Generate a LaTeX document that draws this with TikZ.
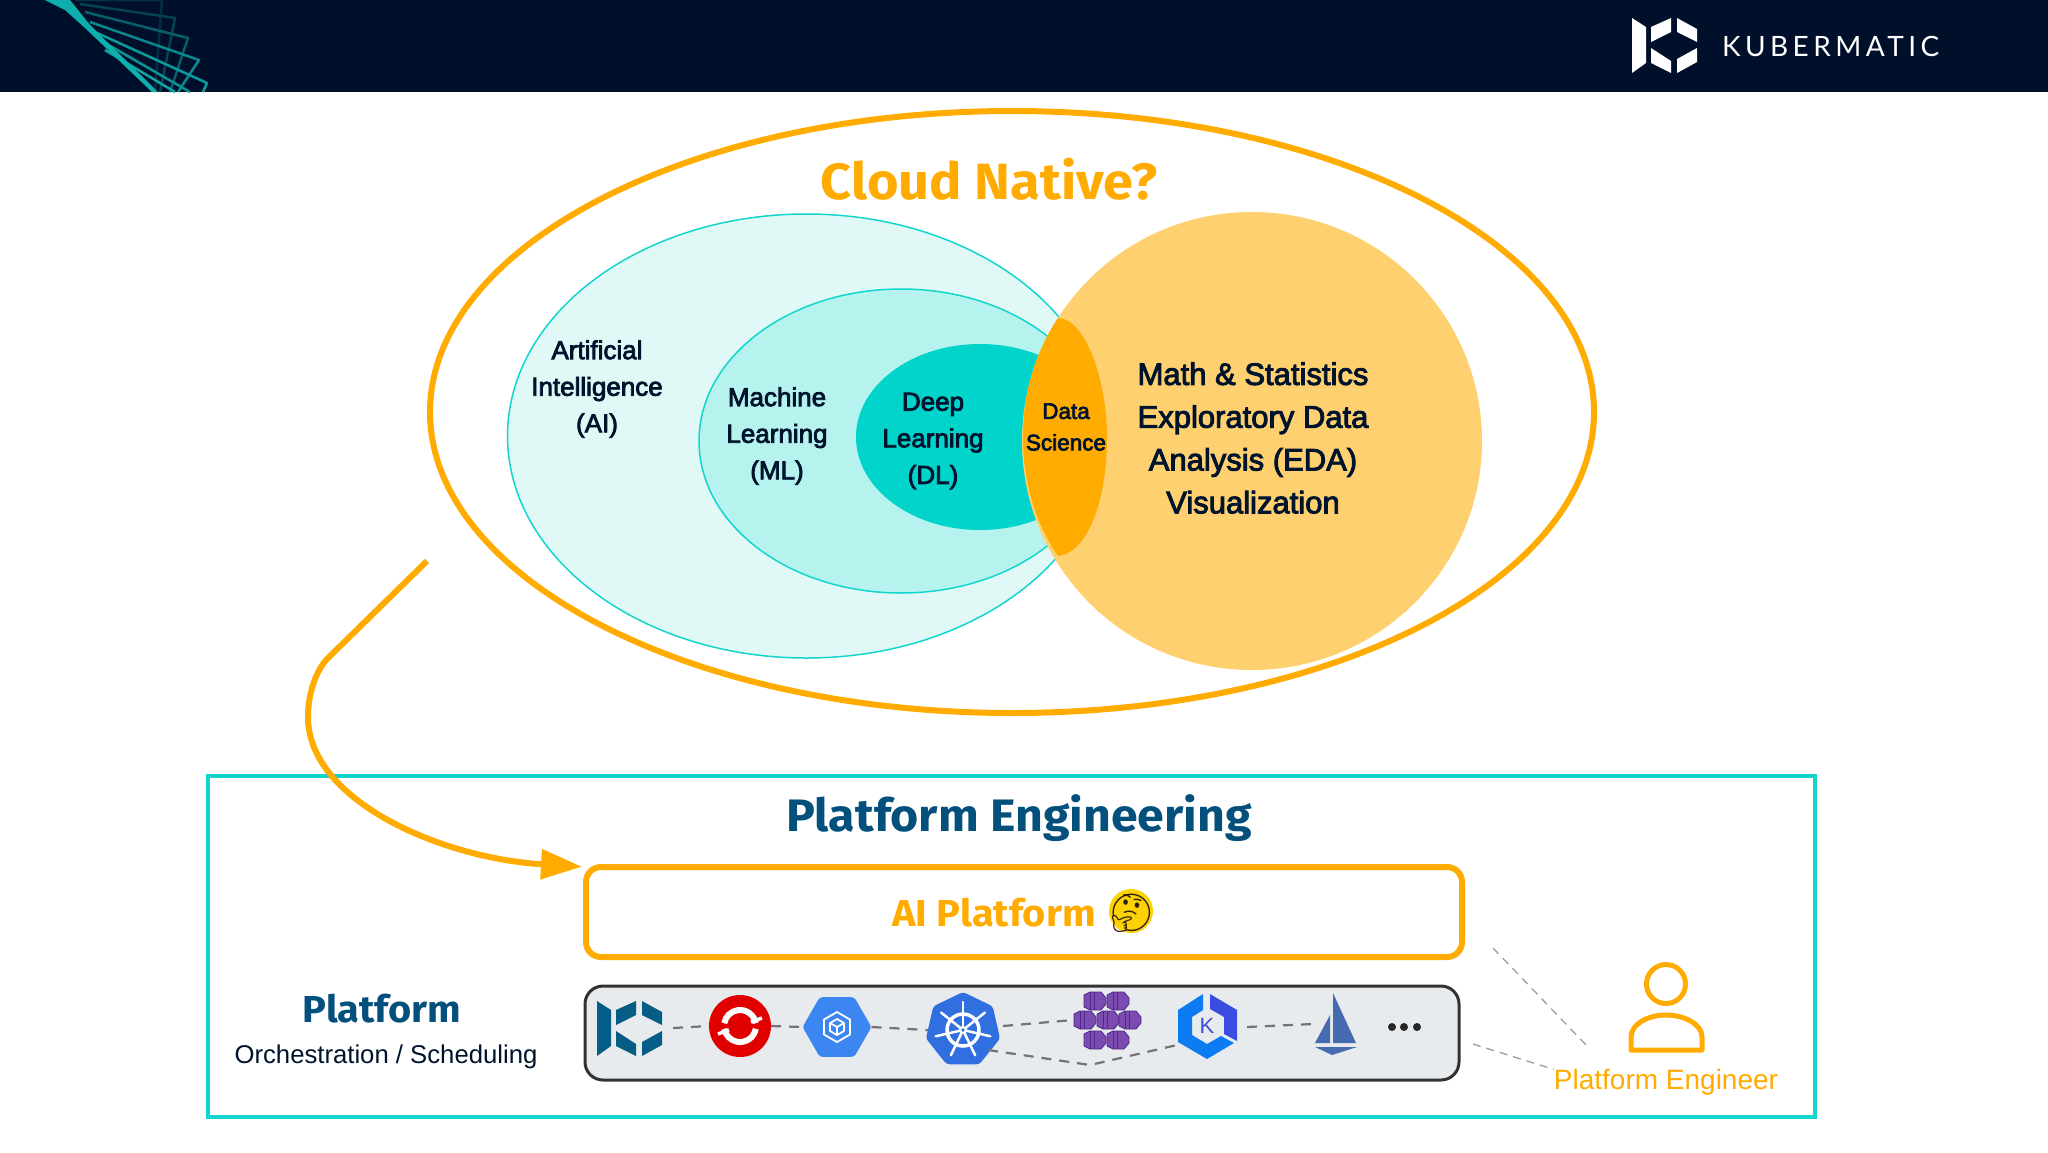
\documentclass[tikz,border=0pt]{standalone}
\usepackage{fontspec}
\setmainfont{Liberation Sans}
\newfontfamily\medfont[FakeBold=3]{Liberation Sans}
\newfontfamily\headfont[FakeStretch=1.06]{Fira Sans}
\newfontfamily\logofont[LetterSpace=16]{Lato}
\newfontfamily\emojifont{Noto Emoji}
\usepackage{tikz}
\usetikzlibrary{arrows.meta,shapes.geometric}
\definecolor{navy}{HTML}{00102B}
\definecolor{ink}{HTML}{00132D}
\definecolor{deepblue}{HTML}{04507D}
\definecolor{amber}{HTML}{FFAB00}
\definecolor{lightamber}{HTML}{FFD070}
\definecolor{teal}{HTML}{12D6CE}
\definecolor{aifill}{HTML}{E0F9F6}
\definecolor{mlfill}{HTML}{B6F3EF}
\definecolor{dlfill}{HTML}{00D4CB}
\definecolor{barfill}{HTML}{E8EBEE}
\definecolor{gkeblue}{HTML}{3B86F0}
\definecolor{kubeblue}{HTML}{2F6FE0}
\definecolor{cubefill}{HTML}{7B4BB0}
\definecolor{cubeline}{HTML}{50268C}
\definecolor{sailblue}{HTML}{466BB0}
\definecolor{kindigo}{HTML}{3B4CE0}
\definecolor{kblue}{HTML}{0D7BF2}
\tikzstyle{every node}=[inner sep=0pt,outer sep=0pt]
\tikzstyle{area}=[ellipse,draw=teal,line width=1.5pt]
\tikzstyle{venntext}=[text=ink,align=center,font=\medfont\fontsize{26}{36.6}\selectfont]
\tikzstyle{bigtext}=[text=ink,align=center,font=\medfont\fontsize{31}{42.8}\selectfont]
\tikzstyle{smalltext}=[text=ink,align=center,font=\medfont\fontsize{22.5}{31.5}\selectfont]
\tikzstyle{heading}=[text=deepblue,font=\headfont\bfseries\fontsize{45.5}{50}\selectfont]
\tikzstyle{iconlink}=[dash pattern=on 10pt off 8pt,draw=black!55,line width=2.2pt]
\tikzstyle{hintlink}=[dash pattern=on 8pt off 6pt,draw=black!38,line width=1.3pt]
\tikzset{
  kmlogo/.pic={
    \fill (0,0) -- (14,9) -- (14,45) -- (0,55) -- cycle;
    \fill (19,9) -- (39,0) -- (39,14) -- (19,24) -- cycle;
    \fill (19,30) -- (39,43) -- (39,55) -- (19,45) -- cycle;
    \fill (45,0) -- (65,11) -- (65,24) -- (45,14) -- cycle;
    \fill (45,41) -- (65,30) -- (65,44) -- (45,55) -- cycle;
  },
  cube/.pic={
    \filldraw[fill=cubefill,draw=cubeline,line width=0.8pt,line join=round]
      (-11,-6) -- (-5,-9) -- (6,-9) -- (11,-3) -- (11,3) -- (6,9) -- (-5,9) -- (-11,6) -- cycle;
    \draw[cubeline,line width=0.8pt] (-5,-9) -- (-5,9) (-1,-9) -- (-1,9);
  }
}
\begin{document}
\begin{tikzpicture}[x=1pt,y=-1pt]
  \useasboundingbox[fill=white] (0,0) rectangle (2048,1152);
  % header
  \fill[navy] (0,0) rectangle (2048,92);
  \begin{scope}
    \clip (0,0) rectangle (2048,92);
    \foreach \sx/\sy/\cx/\cy/\ex/\tone in {75/0/162/0/155/15,80/4/175/18/160/25,85/12/188/38/170/40,90/22/199/60/178/60,95/32/207/83/203/70}
      \draw[teal!\tone!navy,line width=2.5pt,line join=round] (\sx,\sy) -- (\cx,\cy) -- (\ex,92);
    \foreach \sx/\sy/\ex/\tone in {100/40/190/65,105/50/175/75}
      \draw[teal!\tone!navy,line width=2.5pt] (\sx,\sy) -- (\ex,92);
    \fill[teal!80!navy] (45,0) -- (70,0) -- (90,25) -- (158,92) -- (152,92) -- (85,28) -- (65,10) -- cycle;
  \end{scope}
  \pic[white] at (1632,18) {kmlogo};
  \node[text=white,anchor=west,font=\logofont\fontsize{28}{30}\selectfont] (brand) at (1722,46.5) {KUBERMATIC};
  % venn
  \node[ellipse,draw=amber,line width=6pt,minimum width=1164pt,minimum height=602pt] (cloud) at (1012,412) {};
  \node[area,fill=aifill,minimum width=598pt,minimum height=444pt] (ai) at (806.5,436) {};
  \node[area,fill=mlfill,minimum width=404pt,minimum height=304pt] (ml) at (901,441) {};
  \node[ellipse,fill=dlfill,minimum width=248pt,minimum height=186pt] (dl) at (980,437) {};
  \node[ellipse,fill=lightamber,minimum width=460pt,minimum height=458pt] (math) at (1252,441) {};
  \fill[amber] (1058,318) .. controls (1085,318) and (1107,380) .. (1107,437)
    .. controls (1107,495) and (1090,552) .. (1058,556)
    .. controls (1040,530) and (1023,490) .. (1023,437)
    .. controls (1023,385) and (1040,345) .. (1058,318) -- cycle;
  \node[text=amber,font=\headfont\bfseries\fontsize{51}{54}\selectfont] (question) at (989,179.5) {Cloud Native?};
  \node[venntext] (ailabel) at (597,389) {Artificial\\Intelligence\\(AI)};
  \node[venntext] (mllabel) at (777,436) {Machine\\Learning\\(ML)};
  \node[venntext] (dllabel) at (933,441) {Deep\\Learning\\(DL)};
  \node[smalltext] (dslabel) at (1066,427) {Data\\Science};
  \node[bigtext] (mathlabel) at (1253,438) {Math \& Statistics\\Exploratory Data\\Analysis (EDA)\\Visualization};
  % platform engineering
  \node[draw=teal,line width=4pt,minimum width=1607pt,minimum height=341pt] (frame) at (1011.5,946.5) {};
  \node[heading] (title) at (1019,818.5) {Platform Engineering};
  \node[draw=amber,line width=6pt,rounded corners=15pt,minimum width=876pt,minimum height=90pt] (aibox) at (1024,912) {};
  \node[text=amber,font=\headfont\bfseries\fontsize{37.5}{42}\selectfont] (aitext) at (994,913) {AI Platform};
  \node[circle,fill=yellow!70!orange,minimum size=44pt] (thinkface) at (1131,911) {};
  \node[text=black!75!brown,font=\emojifont\fontsize{37}{40}\selectfont] (thinking) at (1131,913) {🤔};
  \coordinate (flowstart) at (427,561);
  \coordinate (flowbend) at (328,658);
  \draw[amber,line width=6pt,shorten >=4pt,-{Triangle[length=41pt,width=29pt]}] (flowstart) -- (flowbend)
    .. controls (318,668) and (308,690) .. (308,717)
    .. controls (308,800) and (440,858) .. (aibox.north west);
  \node[text=deepblue,font=\headfont\bfseries\fontsize{37.5}{44}\selectfont] (platform) at (382,1009) {Platform};
  \node[text=ink,font=\fontsize{25.7}{30}\selectfont] (orchestration) at (386,1056.5) {Orchestration / Scheduling};
  % tool row
  \node[draw=black!80,fill=barfill,line width=3pt,rounded corners=18pt,minimum width=874pt,minimum height=94pt] (toolbar) at (1022,1033) {};
  \node[minimum width=66pt,minimum height=56pt] (kkp) at (640,1028) {};
  \pic[deepblue!90!teal] at (597,1001) {kmlogo};
  \node[circle,fill=red!88!black,minimum size=62pt] (openshift) at (740,1026) {};
  \begin{scope}[shift={(openshift.center)}]
    \draw[white,line width=6pt] (-10:16) arc [start angle=-10,end angle=-170,radius=16];
    \draw[white,line width=6pt] (10:16) arc [start angle=10,end angle=170,radius=16];
    \draw[white,line width=3.5pt] (11,-4) -- (22,-8) (-11,4) -- (-22,8);
  \end{scope}
  \node[regular polygon,regular polygon sides=6,fill=gkeblue,rounded corners=3pt,minimum size=69pt] (gke) at (837,1027) {};
  \begin{scope}[shift={(gke.center)},white,line width=1.8pt,line join=round]
    \draw (0,-15) -- (13,-7.5) -- (13,7.5) -- (0,15) -- (-13,7.5) -- (-13,-7.5) -- cycle;
    \draw (0,-8) -- (7,-4) -- (7,4) -- (0,8) -- (-7,4) -- (-7,-4) -- cycle;
    \draw (-7,-4) -- (0,0) -- (7,-4) (0,0) -- (0,8);
  \end{scope}
  \node[regular polygon,regular polygon sides=7,fill=kubeblue,rounded corners=3pt,minimum size=76pt] (kube) at (963,1030) {};
  \begin{scope}[shift={(kube.center)},white]
    \draw[line width=3.5pt] (0,0) circle (16pt);
    \foreach \a in {0,...,6}
      \draw[line width=2.5pt,line cap=round] (0,0) -- (-90+\a*360/7:28);
    \fill circle (4pt);
    \fill[kubeblue] circle (1.8pt);
  \end{scope}
  \node[minimum width=68pt,minimum height=66pt] (aks) at (1107,1020) {};
  \foreach \cx/\cy in {1095/1001,1118/1001,1085/1020,1108/1020,1130/1020,1095/1040,1118/1040}
    \pic at (\cx,\cy) {cube};
  \node[minimum width=60pt,minimum height=66pt,text=kindigo,font=\fontsize{22}{24}\selectfont] (kkpk) at (1207,1026) {K};
  \fill[kindigo] (1210,994) -- (1237,1010) -- (1237,1041) -- (1224,1034) -- (1224,1017) -- (1210,1009) -- cycle;
  \fill[kblue] (1203,994) -- (1178,1010) -- (1178,1042) -- (1207,1059) -- (1234,1043) -- (1221,1036) -- (1207,1044) -- (1192,1035) -- (1192,1017) -- (1203,1010) -- cycle;
  \node[minimum width=44pt,minimum height=62pt] (istio) at (1335,1024) {};
  \fill[sailblue] (1333,993) -- (1356,1043) -- (1333,1043) -- cycle;
  \fill[sailblue] (1330,1015) -- (1315,1043) -- (1330,1043) -- cycle;
  \fill[sailblue] (1315,1047) -- (1357,1047) -- (1332,1055) -- cycle;
  \foreach \dotx in {1392,1404,1417}
    \fill[black!85] (\dotx,1027) circle (4pt);
  \coordinate (kubedip) at (1090,1065);
  \coordinate (kubeleave) at (988,1050);
  \coordinate (kubeexit) at (1003,1026);
  \coordinate (kkpkexit) at (1247,1027);
  \draw[iconlink] (kkp.east) -- (openshift.west) (openshift.east) -- (gke.west) (gke.east) -- (kube.west);
  \draw[iconlink] (kubeexit) -- (aks.west);
  \draw[iconlink] (kubeleave) -- (kubedip) -- ([yshift=-19pt]kkpk.west);
  \draw[iconlink] (kkpkexit) -- (istio.west);
  % engineer
  \node[circle,draw=amber,line width=5pt,minimum size=39pt] (engineerhead) at (1666,984) {};
  \draw[amber,line width=5pt,line join=round] (1631,1050) -- (1702,1050) -- (1702,1037)
    .. controls (1702,1024) and (1684,1015) .. (1666,1015)
    .. controls (1648,1015) and (1631,1024) .. (1631,1037) -- cycle;
  \node[text=amber,font=\fontsize{28}{32}\selectfont] (engineer) at (1666,1082.5) {Platform Engineer};
  \coordinate (hintA) at (1493,948);
  \coordinate (hintB) at (1588,1047);
  \coordinate (hintC) at (1473,1044);
  \draw[hintlink] (hintA) -- (hintB);
  \draw[hintlink] (hintC) -- (engineer.north west);
\end{tikzpicture}
\end{document}
